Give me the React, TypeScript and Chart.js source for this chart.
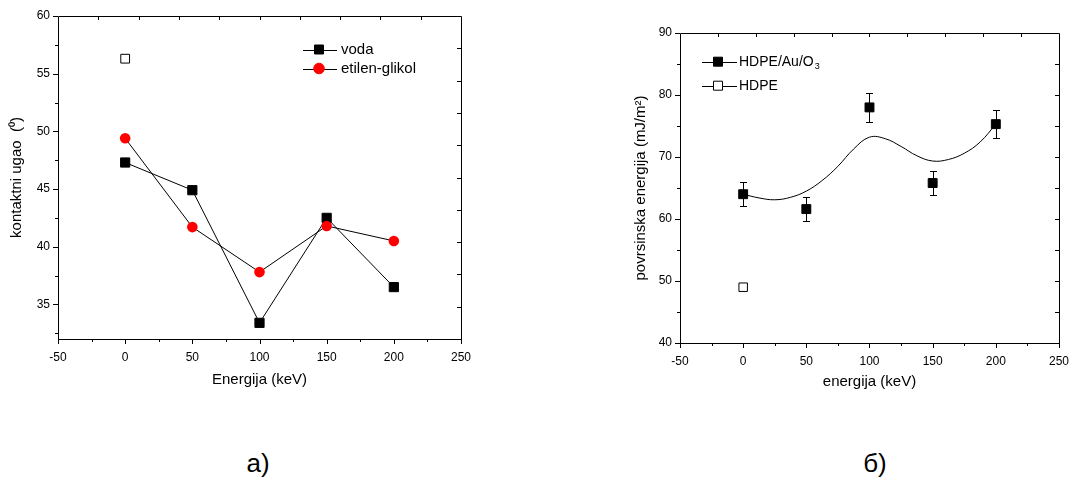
import React, { useEffect, useRef } from "react";
import { Chart, registerables } from "chart.js";
Chart.register(...registerables);

// ---- data ----
const energies = [0, 50, 100, 150, 200];
const vodaAngles = [47.3, 44.9, 33.4, 42.5, 36.5];
const glikolAngles = [49.4, 41.7, 37.8, 41.8, 40.5];
const untreatedEnergy = [0];
const untreatedAngle = [56.3];
const surfaceEnergy = [64.0, 61.6, 78.0, 65.8, 75.3];
const surfaceEnergyErr = [1.9, 1.9, 2.3, 1.95, 2.25];
const untreatedSurface = [49.0];
const fitEnergies = [0, 12.5, 25, 37.5, 50, 62.5, 75, 87.5, 100, 112.5, 125, 137.5, 150, 162.5, 175, 187.5, 200];
const fitSurface = [64.0, 63.4, 63.1, 63.5, 64.5, 66.2, 68.5, 71.3, 73.2, 72.95, 71.7, 70.2, 69.35, 69.6, 70.6, 72.4, 75.3];
const xTicks = [-50, 0, 50, 100, 150, 200, 250];
const xMinorTicks = [-25, 25, 75, 125, 175, 225];
const leftYTicks = [35, 40, 45, 50, 55, 60];
const leftYMinor = [32.5, 37.5, 42.5, 47.5, 52.5, 57.5];
const rightYTicks = [40, 50, 60, 70, 80, 90];
const rightYMinor = [45, 55, 65, 75, 85];

const FONT = '"Liberation Sans", Arial, Helvetica, sans-serif';

const pts = (xs: number[], ys: number[]) => xs.map((x, i) => ({ x, y: ys[i] }));

function framePlugin(id: string, xMinor: number[], yMinor: number[]) {
  return {
    id,
    afterDraw(chart: any) {
      const { ctx, chartArea: a, scales } = chart;
      const xs = scales.x, ys = scales.y;
      const r = (v: number) => Math.round(v) + 0.5;
      ctx.save();
      ctx.strokeStyle = "#000";
      ctx.lineWidth = 1;
      ctx.beginPath();
      ctx.rect(r(a.left), r(a.top), Math.round(a.right - a.left), Math.round(a.bottom - a.top));
      xs.ticks.forEach((t: any) => {
        const p = r(xs.getPixelForValue(t.value));
        ctx.moveTo(p, a.bottom); ctx.lineTo(p, a.bottom + 5);
      });
      xMinor.forEach((v) => {
        const p = r(xs.getPixelForValue(v));
        ctx.moveTo(p, a.bottom); ctx.lineTo(p, a.bottom + 3);
      });
      ys.ticks.forEach((t: any) => {
        const p = r(ys.getPixelForValue(t.value));
        ctx.moveTo(a.left, p); ctx.lineTo(a.left - 5, p);
      });
      yMinor.forEach((v) => {
        const p = r(ys.getPixelForValue(v));
        ctx.moveTo(a.left, p); ctx.lineTo(a.left - 3, p);
      });
      for (let i = 1; i < 10; i++) {
        const px = r(a.left + ((a.right - a.left) * i) / 10);
        ctx.moveTo(px, a.top); ctx.lineTo(px, a.top + 4);
        const py = r(a.top + ((a.bottom - a.top) * i) / 10);
        ctx.moveTo(a.right, py); ctx.lineTo(a.right - 4, py);
      }
      ctx.stroke();
      ctx.restore();
    },
  };
}

type LegendItem = { label: string; sub?: string; shape: "rect" | "circle"; fill: string; stroke: string };

function legendPlugin(id: string, x0: number, x1: number, mx: number, tx: number, rows: number[], items: LegendItem[], size: number) {
  return {
    id,
    afterDraw(chart: any) {
      const ctx = chart.ctx;
      ctx.save();
      items.forEach((it, i) => {
        const y = rows[i];
        ctx.strokeStyle = "#000";
        ctx.lineWidth = 1;
        ctx.beginPath();
        ctx.moveTo(x0, Math.round(y) + 0.5);
        ctx.lineTo(x1, Math.round(y) + 0.5);
        ctx.stroke();
        ctx.beginPath();
        if (it.shape === "rect") {
          ctx.rect(mx - 4.5, y - 4.5, 9, 9);
        } else {
          ctx.arc(mx, y, 5.3, 0, Math.PI * 2);
        }
        ctx.fillStyle = it.fill;
        ctx.fill();
        ctx.strokeStyle = it.stroke;
        ctx.stroke();
        ctx.fillStyle = "#000";
        ctx.font = `${size}px ${FONT}`;
        ctx.textBaseline = "middle";
        ctx.textAlign = "left";
        ctx.fillText(it.label, tx, y);
        if (it.sub) {
          const w = ctx.measureText(it.label).width;
          ctx.font = `${Math.round(size * 0.65)}px ${FONT}`;
          ctx.fillText(it.sub, tx + w + 1, y + 5);
        }
      });
      ctx.restore();
    },
  };
}

const errorBarPlugin = {
  id: "errbars",
  beforeDatasetsDraw(chart: any) {
    const { ctx, scales } = chart;
    ctx.save();
    ctx.strokeStyle = "#000";
    ctx.lineWidth = 1;
    ctx.beginPath();
    energies.forEach((e, i) => {
      const px = Math.round(scales.x.getPixelForValue(e)) + 0.5;
      const top = Math.round(scales.y.getPixelForValue(surfaceEnergy[i] + surfaceEnergyErr[i])) + 0.5;
      const bot = Math.round(scales.y.getPixelForValue(surfaceEnergy[i] - surfaceEnergyErr[i])) + 0.5;
      ctx.moveTo(px, top); ctx.lineTo(px, bot);
      ctx.moveTo(px - 3.5, top); ctx.lineTo(px + 3.5, top);
      ctx.moveTo(px - 3.5, bot); ctx.lineTo(px + 3.5, bot);
    });
    ctx.stroke();
    ctx.restore();
  },
};

function axisX(title: string, height: number, titlePadBottom: number) {
  return {
    type: "linear",
    min: -50,
    max: 250,
    afterBuildTicks: (s: any) => { s.ticks = xTicks.map((v) => ({ value: v })); },
    afterFit: (s: any) => { s.height = height; },
    grid: { display: false, drawTicks: false },
    border: { display: false },
    ticks: { color: "#000", font: { size: 12, family: FONT }, padding: 11, maxRotation: 0, autoSkip: false },
    title: { display: true, text: title, color: "#000", font: { size: 15, family: FONT }, padding: { top: 0, bottom: titlePadBottom } },
  };
}

function axisY(title: string, min: number, max: number, ticks: number[], width: number, titlePadTop: number) {
  return {
    type: "linear",
    min,
    max,
    afterBuildTicks: (s: any) => { s.ticks = ticks.map((v) => ({ value: v })); },
    afterFit: (s: any) => { s.width = width; },
    grid: { display: false, drawTicks: false },
    border: { display: false },
    ticks: { color: "#000", font: { size: 12, family: FONT }, padding: 8 },
    title: { display: true, text: title, color: "#000", font: { size: 15, family: FONT }, padding: { top: titlePadTop, bottom: 0 } },
  };
}

export default function App() {
  const leftRef = useRef<HTMLCanvasElement>(null);
  const rightRef = useRef<HTMLCanvasElement>(null);

  useEffect(() => {
    document.body.style.margin = "0";
    const left = new Chart(leftRef.current!, {
      type: "line",
      data: {
        datasets: [
          {
            label: "voda",
            data: pts(energies, vodaAngles),
            borderColor: "#000",
            borderWidth: 1,
            pointStyle: "rect",
            pointRadius: 6.5,
            pointBackgroundColor: "#000",
            pointBorderColor: "#000",
            pointBorderWidth: 1,
            tension: 0,
            order: 1,
          },
          {
            label: "etilen-glikol",
            data: pts(energies, glikolAngles),
            borderColor: "#000",
            borderWidth: 1,
            pointStyle: "circle",
            pointRadius: 5.3,
            pointBackgroundColor: "#ff0000",
            pointBorderColor: "#ff0000",
            pointBorderWidth: 0,
            tension: 0,
            order: 0,
          },
          {
            label: "neozraceno",
            data: pts(untreatedEnergy, untreatedAngle),
            showLine: false,
            pointStyle: "rect",
            pointRadius: 6.2,
            pointBackgroundColor: "#fff",
            pointBorderColor: "#000",
            pointBorderWidth: 1,
            order: 2,
          },
        ],
      } as any,
      options: {
        responsive: false,
        animation: false,
        devicePixelRatio: 1,
        layout: { padding: { left: 0, top: 16, right: 79, bottom: 0 } },
        plugins: { legend: { display: false }, tooltip: { enabled: false } },
        scales: {
          x: axisX("Energija (keV)", 61, 11),
          y: axisY("kontaktni ugao  (\u2070)", 32, 60, leftYTicks, 58, 8),
        } as any,
      },
      plugins: [
        framePlugin("frameL", xMinorTicks, leftYMinor),
        legendPlugin("legL", 303, 337, 319, 341, [49.5, 68.5], [
          { label: "voda", shape: "rect", fill: "#000", stroke: "#000" },
          { label: "etilen-glikol", shape: "circle", fill: "#ff0000", stroke: "#ff0000" },
        ], 15),
      ],
    });

    const right = new Chart(rightRef.current!, {
      type: "line",
      data: {
        datasets: [
          {
            label: "fit",
            data: pts(fitEnergies, fitSurface),
            borderColor: "#000",
            borderWidth: 1,
            pointRadius: 0,
            tension: 0.4,
            order: 2,
          },
          {
            label: "HDPE/Au/O3",
            data: pts(energies, surfaceEnergy),
            showLine: false,
            pointStyle: "rect",
            pointRadius: 6.3,
            pointBackgroundColor: "#000",
            pointBorderColor: "#000",
            pointBorderWidth: 1,
            order: 0,
          },
          {
            label: "HDPE",
            data: pts(untreatedEnergy, untreatedSurface),
            showLine: false,
            pointStyle: "rect",
            pointRadius: 6.0,
            pointBackgroundColor: "#fff",
            pointBorderColor: "#000",
            pointBorderWidth: 1,
            order: 1,
          },
        ],
      } as any,
      options: {
        responsive: false,
        animation: false,
        devicePixelRatio: 1,
        layout: { padding: { left: 0, top: 33, right: 13, bottom: 0 } },
        plugins: { legend: { display: false }, tooltip: { enabled: false } },
        scales: {
          x: axisX("energija (keV)", 57, 9),
          y: axisY("povrsinska energija (mJ/m\u00B2)", 40, 90, rightYTicks, 140, 92),
        } as any,
      },
      plugins: [
        errorBarPlugin,
        framePlugin("frameR", xMinorTicks, rightYMinor),
        legendPlugin("legR", 162, 197, 178, 199, [61.7, 85.7], [
          { label: "HDPE/Au/O", sub: "3", shape: "rect", fill: "#000", stroke: "#000" },
          { label: "HDPE", shape: "rect", fill: "#fff", stroke: "#000" },
        ], 14),
      ],
    });

    return () => {
      left.destroy();
      right.destroy();
    };
  }, []);

  const cap: React.CSSProperties = {
    position: "absolute",
    top: 463,
    transform: "translate(-50%, -50%)",
    fontFamily: FONT,
    fontSize: 26,
    lineHeight: 1,
    color: "#000",
  };

  return (
    <div style={{ position: "relative", width: 1080, height: 496, background: "#fff", overflow: "hidden" }}>
      <canvas ref={leftRef} width={540} height={400} style={{ position: "absolute", left: 0, top: 0, width: 540, height: 400 }} />
      <canvas ref={rightRef} width={540} height={400} style={{ position: "absolute", left: 540, top: 0, width: 540, height: 400 }} />
      <div style={{ ...cap, left: 258 }}>a)</div>
      <div style={{ ...cap, left: 875 }}>б)</div>
    </div>
  );
}
